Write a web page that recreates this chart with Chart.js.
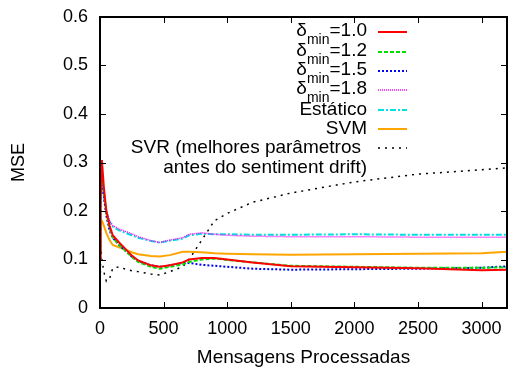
<!DOCTYPE html>
<html>
<head>
<meta charset="utf-8">
<script src="https://cdn.jsdelivr.net/npm/chart.js@4.4.0/dist/chart.umd.min.js"></script>
<style>
  html, body { margin: 0; padding: 0; background: #fff; }
</style>
</head>
<body>
<canvas id="myChart" width="508" height="367"></canvas>
<script>
// Data
const msgs = [0, 5, 15, 30, 50, 75, 100, 150, 200, 250, 300, 400, 470, 550, 650, 700, 800, 900, 1000, 1200, 1500, 2000, 2500, 3000, 3200];
const delta10 = [0.10, 0.22, 0.305, 0.25, 0.20, 0.17, 0.15, 0.135, 0.122, 0.108, 0.098, 0.088, 0.085, 0.088, 0.094, 0.100, 0.103, 0.103, 0.100, 0.094, 0.086, 0.084, 0.082, 0.078, 0.079];
const delta12 = [0.06, 0.29, 0.28, 0.24, 0.195, 0.165, 0.145, 0.13, 0.118, 0.105, 0.095, 0.085, 0.081, 0.085, 0.090, 0.095, 0.100, 0.102, 0.099, 0.094, 0.087, 0.085, 0.083, 0.083, 0.084];
const delta15 = [0.10, 0.25, 0.26, 0.23, 0.19, 0.16, 0.145, 0.13, 0.118, 0.106, 0.097, 0.088, 0.085, 0.088, 0.093, 0.093, 0.089, 0.087, 0.085, 0.081, 0.079, 0.080, 0.081, 0.083, 0.086];
const delta18 = [0.20, 0.27, 0.26, 0.23, 0.20, 0.18, 0.17, 0.163, 0.158, 0.153, 0.147, 0.139, 0.135, 0.140, 0.145, 0.152, 0.155, 0.152, 0.150, 0.148, 0.147, 0.147, 0.146, 0.146, 0.146];
const estatico = [0.20, 0.26, 0.265, 0.23, 0.20, 0.178, 0.168, 0.16, 0.155, 0.15, 0.145, 0.138, 0.135, 0.139, 0.143, 0.150, 0.153, 0.152, 0.152, 0.151, 0.151, 0.152, 0.151, 0.151, 0.151];
const svm = [0.12, 0.18, 0.18, 0.17, 0.155, 0.14, 0.13, 0.125, 0.12, 0.115, 0.111, 0.107, 0.106, 0.109, 0.116, 0.116, 0.115, 0.113, 0.112, 0.111, 0.110, 0.111, 0.112, 0.113, 0.116];
const svr = [0.0, 0.13, 0.10, 0.075, 0.055, 0.06, 0.082, 0.085, 0.08, 0.077, 0.075, 0.07, 0.068, 0.075, 0.085, 0.10, 0.14, 0.18, 0.195, 0.218, 0.237, 0.26, 0.276, 0.285, 0.289];

const xTicks = [0, 500, 1000, 1500, 2000, 2500, 3000];
const yTicks = [0, 0.1, 0.2, 0.3, 0.4, 0.5, 0.6];

function pts(ys) {
  return msgs.map((x, i) => ({ x: x, y: ys[i] }));
}

Chart.defaults.font.family = "'Liberation Sans', Arial, sans-serif";
Chart.defaults.color = "#000";

// Start Frame (top/right) + inward ticks + key, gnuplot style
const gnuPlugin = {
  id: "gnustyle",
  afterDraw(chart) {
    const c = chart.ctx;
    const a = chart.chartArea;
    const xs = chart.scales.x, ys = chart.scales.y;
    c.save();
    c.strokeStyle = "#000000";
    c.lineWidth = 2;
    c.strokeRect(a.left, a.top, a.right - a.left, a.bottom - a.top);
    c.fillStyle = "#000000";
    xTicks.forEach(v => {
      const px = Math.round(xs.getPixelForValue(v));
      c.fillRect(px, a.bottom - 6, 1, 6);
      c.fillRect(px, a.top, 1, 6);
    });
    yTicks.forEach(v => {
      const py = Math.round(ys.getPixelForValue(v));
      c.fillRect(a.left, py, 6, 1);
      c.fillRect(a.right - 6, py, 6, 1);
    });

    // key
    const textRight = 367, sx0 = 378, sx1 = 407;
    const rowY = [32, 52, 71, 90, 110, 129, 148];
    const big = "19px 'Liberation Sans', Arial, sans-serif";
    const small = "14px 'Liberation Sans', Arial, sans-serif";
    c.textBaseline = "middle";
    chart.data.datasets.forEach((ds, i) => {
      const y = rowY[i];
      c.fillStyle = "#000";
      if (ds.sub) {
        c.font = big;
        const w1 = c.measureText(ds.pre).width;
        const w3 = c.measureText(ds.post).width;
        c.font = small;
        const w2 = c.measureText(ds.sub).width;
        let x = textRight - (w1 + w2 + w3);
        c.textAlign = "left";
        c.font = big;
        c.fillText(ds.pre, x, y - 1);
        x += w1;
        c.font = small;
        c.fillText(ds.sub, x, y + 8);
        x += w2;
        c.font = big;
        c.fillText(ds.post, x, y - 1);
      } else {
        c.font = big;
        c.textAlign = "right";
        const lines = ds.keyLines || [ds.label];
        lines.forEach((t, k) => {
          c.fillText(t, textRight - (k === 0 && lines.length > 1 ? 6 : 0), y + k * 20);
        });
      }
      c.strokeStyle = ds.borderColor;
      c.lineWidth = ds.borderWidth;
      c.setLineDash(ds.borderDash || []);
      c.beginPath();
      c.moveTo(sx0, y);
      c.lineTo(sx1, y);
      c.stroke();
    });
    c.restore();
  }
};

const canvas = document.getElementById("myChart");

const chart = new Chart(canvas, {
  type: "line",
  data: {
    datasets: [
      { label: "δmin=1.0", pre: "δ", sub: "min", post: "=1.0", data: pts(delta10), borderColor: "#ff0000", borderWidth: 2, borderDash: [] },
      { label: "δmin=1.2", pre: "δ", sub: "min", post: "=1.2", data: pts(delta12), borderColor: "#00e000", borderWidth: 2, borderDash: [4, 2] },
      { label: "δmin=1.5", pre: "δ", sub: "min", post: "=1.5", data: pts(delta15), borderColor: "#0000ff", borderWidth: 2, borderDash: [2, 2] },
      { label: "δmin=1.8", pre: "δ", sub: "min", post: "=1.8", data: pts(delta18), borderColor: "#ff00ff", borderWidth: 1.5, borderDash: [1, 1] },
      { label: "Estático", data: pts(estatico), borderColor: "#00e0e0", borderWidth: 2, borderDash: [6, 2, 2, 2] },
      { label: "SVM", data: pts(svm), borderColor: "#ffa500", borderWidth: 2, borderDash: [] },
      { label: "SVR (melhores parâmetros antes do sentiment drift)", keyLines: ["SVR (melhores parâmetros", "antes do sentiment drift)"], data: pts(svr), borderColor: "#000000", borderWidth: 1.5, borderDash: [2, 5] },
    ],
  },
  options: {
    responsive: false,
    animation: false,
    elements: {
      point: { radius: 0 },
      line: { tension: 0, fill: false },
    },
    layout: { padding: { top: 17, right: 1, left: 0, bottom: 0 } },
    scales: {
      x: {
        type: "linear",
        min: 0,
        max: 3200,
        grid: { display: false, drawTicks: false },
        border: { display: true, color: "#000", width: 2 },
        ticks: { padding: 10, maxRotation: 0, font: { size: 18 }, callback: (v) => String(v) },
        afterBuildTicks: (s) => { s.ticks = xTicks.map(v => ({ value: v })); },
        afterFit: (s) => { s.height = 59; s.paddingLeft = 0; s.paddingRight = 0; },
        title: { display: true, text: "Mensagens Processadas", font: { size: 19, lineHeight: 1 }, padding: 0 },
      },
      y: {
        min: 0,
        max: 0.6,
        grid: { display: false, drawTicks: false },
        border: { display: true, color: "#000", width: 2 },
        ticks: { padding: 12, font: { size: 18 }, callback: (v) => String(Math.round(v * 10) / 10) },
        afterBuildTicks: (s) => { s.ticks = yTicks.map(v => ({ value: v })); },
        afterFit: (s) => { s.width = 100; s.paddingTop = 0; s.paddingBottom = 0; },
        title: { display: true, text: "MSE", font: { size: 18 }, padding: { top: 8, bottom: 0 } },
      },
    },
    plugins: {
      legend: { display: false },
      tooltip: { enabled: false },
    },
  },
  plugins: [gnuPlugin],
});
</script>
</body>
</html>
